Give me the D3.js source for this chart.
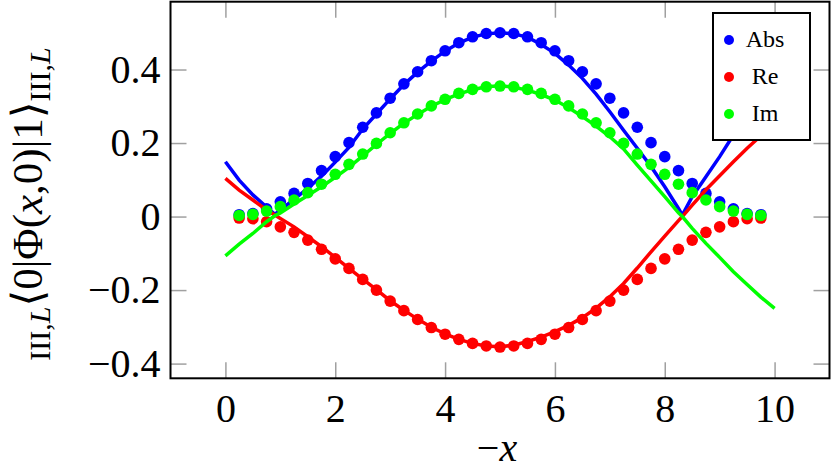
<!DOCTYPE html>
<html>
<head>
<meta charset="utf-8">
<script src="https://cdn.jsdelivr.net/npm/d3@7"></script>
<style>
body { margin: 0; background: #fff; }
text { font-family: "Liberation Serif", "DejaVu Serif", serif; }
</style>
</head>
<body>
<div id="chart"></div>
<script>
// Tick values
var xTicks = [0, 2, 4, 6, 8, 10];
var yTicks = [-0.4, -0.2, 0, 0.2, 0.4];

// Dot samples (markers)
var dotX = [0.25, 0.5, 0.75, 1, 1.25, 1.5, 1.75, 2, 2.25, 2.5, 2.75, 3, 3.25, 3.5, 3.75, 4, 4.25, 4.5, 4.75,
    5, 5.25, 5.5, 5.75, 6, 6.25, 6.5, 6.75, 7, 7.25, 7.5, 7.75, 8, 8.25, 8.5, 8.75, 9, 9.25, 9.5, 9.75];
var dotAbs = [0.005, 0.008, 0.021, 0.040, 0.063, 0.090, 0.125, 0.163, 0.201, 0.243, 0.282, 0.322, 0.361, 0.394, 0.424, 0.451, 0.473, 0.489, 0.498,
    0.500, 0.498, 0.489, 0.473, 0.451, 0.424, 0.394, 0.361, 0.322, 0.282, 0.243, 0.201, 0.163, 0.125, 0.090, 0.063, 0.040, 0.021, 0.008, 0.005];
var dotRe = [-0.004, -0.006, -0.014, -0.028, -0.043, -0.064, -0.089, -0.115, -0.141, -0.171, -0.200, -0.230, -0.256, -0.280, -0.302, -0.320, -0.334, -0.345, -0.352,
    -0.355, -0.352, -0.345, -0.334, -0.320, -0.302, -0.280, -0.256, -0.230, -0.200, -0.171, -0.141, -0.115, -0.089, -0.064, -0.043, -0.028, -0.014, -0.006, -0.004];
var dotIm = [0.003, 0.006, 0.015, 0.027, 0.045, 0.065, 0.088, 0.115, 0.142, 0.170, 0.199, 0.228, 0.255, 0.279, 0.301, 0.319, 0.335, 0.346, 0.353,
    0.355, 0.353, 0.346, 0.335, 0.319, 0.301, 0.279, 0.255, 0.228, 0.199, 0.170, 0.142, 0.115, 0.088, 0.065, 0.045, 0.027, 0.015, 0.006, 0.003];

// Solid curves
var lineX = [0, 0.25, 0.5, 0.75, 0.9, 1, 1.25, 1.5, 1.75, 2, 2.25, 2.5, 2.75, 3, 3.25, 3.5, 3.75, 4, 4.25, 4.5, 4.75,
    5, 5.25, 5.5, 5.75, 6, 6.25, 6.5, 6.75, 7, 7.25, 7.5, 7.75, 8, 8.25, 8.32, 8.5, 8.75, 9, 9.25, 9.5, 9.75, 10];
var lineAbs = [0.149, 0.099, 0.059, 0.026, 0.006, 0.018, 0.047, 0.077, 0.110, 0.148, 0.188, 0.238, 0.279, 0.320, 0.359, 0.393, 0.423, 0.450, 0.472, 0.488, 0.497,
    0.500, 0.497, 0.488, 0.468, 0.444, 0.412, 0.376, 0.333, 0.285, 0.235, 0.186, 0.136, 0.081, 0.022, 0.004, 0.054, 0.108, 0.163, 0.222, 0.270, 0.310, 0.350];
var lineRe = [0.104, 0.072, 0.045, 0.018, 0.004, -0.005, -0.028, -0.055, -0.082, -0.111, -0.141, -0.170, -0.199, -0.229, -0.255, -0.279, -0.301, -0.319, -0.334, -0.345, -0.352,
    -0.354, -0.350, -0.340, -0.328, -0.313, -0.296, -0.275, -0.249, -0.218, -0.182, -0.140, -0.096, -0.053, -0.011, 0.000, 0.031, 0.073, 0.111, 0.149, 0.186, 0.220, 0.252];
var lineIm = [-0.107, -0.075, -0.046, -0.014, 0.002, 0.010, 0.034, 0.057, 0.081, 0.107, 0.134, 0.165, 0.196, 0.226, 0.254, 0.278, 0.300, 0.318, 0.334, 0.345, 0.353,
    0.356, 0.352, 0.344, 0.332, 0.317, 0.296, 0.272, 0.246, 0.217, 0.184, 0.140, 0.097, 0.054, 0.010, 0.000, -0.032, -0.073, -0.111, -0.150, -0.185, -0.219, -0.250];

var seriesNames = ["Abs", "Re", "Im"];
var seriesColors = ["#0000ff", "#ff0000", "#00ff00"];

var width = 831, height = 474;

var svg = d3.select("#chart")
    .append("svg")
    .attr("width", width)
    .attr("height", height);

var x = d3.scaleLinear().domain([-1, 11]).range([170.5, 829.5]);
var y = d3.scaleLinear().domain([-0.44, 0.5845]).range([378.3, 1.7]);

var fmt = function(d) { return d === 0 ? "0" : d3.format(".1f")(d).replace("-", "\u2212"); };

// Axes: grey inward ticks on all four sides
var tickLen = 16;
var axBottom = svg.append("g")
    .attr("transform", "translate(0," + y.range()[0] + ")")
    .call(d3.axisBottom(x).tickValues(xTicks).tickSize(-tickLen).tickPadding(15).tickFormat(d3.format("d")));
var axTop = svg.append("g")
    .attr("transform", "translate(0," + y.range()[1] + ")")
    .call(d3.axisTop(x).tickValues(xTicks).tickSize(-tickLen).tickFormat(""));
var axLeft = svg.append("g")
    .attr("transform", "translate(" + x.range()[0] + ",0)")
    .call(d3.axisLeft(y).tickValues(yTicks).tickSize(-tickLen).tickPadding(10).tickFormat(fmt));
var axRight = svg.append("g")
    .attr("transform", "translate(" + x.range()[1] + ",0)")
    .call(d3.axisRight(y).tickValues(yTicks).tickSize(-tickLen).tickFormat(""));

[axBottom, axTop, axLeft, axRight].forEach(function(g) {
    g.select(".domain").remove();
    g.selectAll(".tick line").attr("stroke", "#a0a0a0").attr("stroke-width", 1.5);
    g.selectAll(".tick text")
        .attr("fill", "#000")
        .style("font-family", "'Liberation Serif', 'DejaVu Serif', serif")
        .style("font-size", "40px");
});

// Curves and markers, one series after the other
var lineGen = d3.line()
    .x(function(d) { return x(d[0]); })
    .y(function(d) { return y(d[1]); });

var lineVals = [lineAbs, lineRe, lineIm];
var dotVals = [dotAbs, dotRe, dotIm];

seriesNames.forEach(function(name, i) {
    var pts = lineX.map(function(v, j) { return [v, lineVals[i][j]]; });
    svg.append("path")
        .datum(pts)
        .attr("class", "curve " + name)
        .attr("fill", "none")
        .attr("stroke", seriesColors[i])
        .attr("stroke-width", 3.5)
        .attr("d", lineGen);

    svg.selectAll(".dot." + name)
        .data(dotX.map(function(v, j) { return [v, dotVals[i][j]]; }))
        .enter()
        .append("circle")
        .attr("class", "dot " + name)
        .attr("cx", function(d) { return x(d[0]); })
        .attr("cy", function(d) { return y(d[1]); })
        .attr("r", 5.8)
        .attr("fill", seriesColors[i]);
});

// Frame
svg.append("rect")
    .attr("x", x.range()[0])
    .attr("y", y.range()[1])
    .attr("width", x.range()[1] - x.range()[0])
    .attr("height", y.range()[0] - y.range()[1])
    .attr("fill", "none")
    .attr("stroke", "#000")
    .attr("stroke-width", 2);

// Legend
var legend = svg.append("g").attr("class", "legend");
legend.append("rect")
    .attr("x", 713).attr("y", 13)
    .attr("width", 97).attr("height", 127)
    .attr("fill", "#fff")
    .attr("stroke", "#000")
    .attr("stroke-width", 2);

seriesNames.forEach(function(name, i) {
    var cy = 40 + i * 37;
    legend.append("circle")
        .attr("cx", 729).attr("cy", cy)
        .attr("r", 5)
        .attr("fill", seriesColors[i]);
    legend.append("text")
        .attr("x", 765).attr("y", cy + 7)
        .attr("text-anchor", "middle")
        .style("font-size", "24px")
        .text(name);
});

// x-axis label
var xl = svg.append("text")
    .attr("x", 497).attr("y", 461)
    .attr("text-anchor", "middle")
    .style("font-size", "40px");
xl.append("tspan").text("\u2212");
xl.append("tspan").style("font-style", "italic").text("x");

// y-axis label
var yl = svg.append("text")
    .attr("transform", "translate(42,204) rotate(-90)")
    .attr("text-anchor", "middle")
    .style("font-size", "43px");
yl.append("tspan").attr("dy", 8).style("font-size", "30px").text("III,");
yl.append("tspan").style("font-size", "30px").style("font-style", "italic").text("L");
yl.append("tspan").attr("dy", -8).text("\u27E80|\u03A6(");
yl.append("tspan").style("font-style", "italic").text("x");
yl.append("tspan").text(",0)|1\u27E9");
yl.append("tspan").attr("dy", 8).style("font-size", "30px").text("III,");
yl.append("tspan").style("font-size", "30px").style("font-style", "italic").text("L");
</script>
</body>
</html>
